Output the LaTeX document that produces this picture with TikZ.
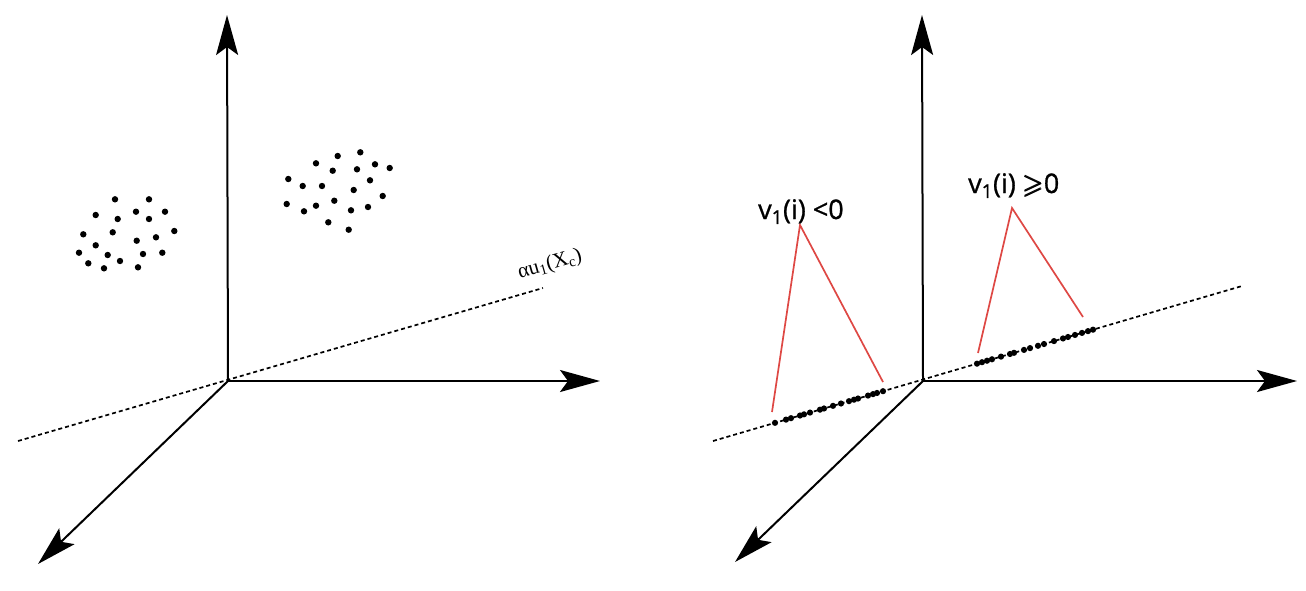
\documentclass[tikz,border=0pt]{standalone}
\usepackage{amsmath}
\usepackage{amssymb}
\usepackage{fontspec}
\newfontfamily\labelsans[FakeBold=0.9]{Open Sans}
\newfontfamily\labelserif{Liberation Serif}
\usetikzlibrary{arrows.meta}
\definecolor{redline}{RGB}{222,72,68}
\tikzset{
  axis/.style={line width=2pt, -{Stealth[length=40pt,width=22pt,inset=8pt]}},
  projline/.style={line width=1.7pt, dash pattern=on 4pt off 3pt},
  redleg/.style={redline, line width=1.7pt},
  dot/.style={black},
  sanslabel/.style={font=\labelsans\fontsize{27}{30}\selectfont, anchor=base west, inner sep=0pt},
  seriflabel/.style={font=\labelserif\fontsize{21}{24}\selectfont, inner sep=0pt}
}
\begin{document}
\begin{tikzpicture}[x=1pt,y=-1pt]
\useasboundingbox (0,0) rectangle (1306,590);
% ---------- left panel ----------
\coordinate (Lo) at (228,381);
\coordinate (Lup) at (227,15);
\coordinate (Lright) at (600,381);
\coordinate (Ldown) at (38,564);
\coordinate (Lda) at (18,441);
\coordinate (Ldb) at (543,288);
\draw[projline] (Lda) -- (Ldb);
\draw[axis] (Lo) -- (Lup);
\draw[axis] (Lo) -- (Lright);
\draw[axis] (Lo) -- (Ldown);
\node[seriflabel, rotate=16] (Llab) at (550,265) {αu\textsubscript{1}(X\textsubscript{c})};
\foreach \p in {(115,199.3),(149,199.3),(95.7,215),(117.7,219),(136,211.7),(165,211.7),(149,219),
  (83.3,234.3),(112.7,232.3),(174.3,231),(136.7,240.7),(156,237.3),(95.7,245.3),(79,252.7),
  (107.7,255),(143,254),(162.3,252.7),(88.3,263.3),(120,261),(104,268.3),(138,267.3)}
  \fill[dot] \p circle (3.2pt);
\foreach \p in {(337.7,156),(360.3,152.3),(316,163.3),(332.7,170.7),(357,169.3),(375,164.3),
  (389.7,168),(288.3,179),(302.7,186),(322,186),(370,180.3),(353.7,190),(382.7,196),(286.7,204),
  (304,211.3),(316,205.7),(334.3,200.7),(351,210.3),(368,207),(328.3,222.3),(348.7,229.7)}
  \fill[dot] \p circle (3.2pt);
% ---------- right panel ----------
\coordinate (Ro) at (923,381);
\coordinate (Rup) at (922,15);
\coordinate (Rright) at (1297,381);
\coordinate (Rdown) at (735,562);
\coordinate (Rda) at (713,441);
\coordinate (Rdb) at (1242,286);
\draw[projline] (Rda) -- (Rdb);
\draw[axis] (Ro) -- (Rup);
\draw[axis] (Ro) -- (Rright);
\draw[axis] (Ro) -- (Rdown);
\foreach \x in {775,786,791,800,804,810,820,824,833,841,849,854,858,868,873,877,883}
  \fill[dot] (\x,{441-0.293*(\x-713)}) circle (3.1pt);
\foreach \x in {977,982,987,992,1001,1010,1014,1024,1030,1038,1044,1054,1063,1068,1075,1082,1088,1093}
  \fill[dot] (\x,{441-0.293*(\x-713)}) circle (3.1pt);
% red wedges
\coordinate (Aapex) at (800,225);
\coordinate (Aleft) at (772,412);
\coordinate (Aright) at (883,382);
\coordinate (Bapex) at (1012,208);
\coordinate (Bleft) at (978,353);
\coordinate (Bright) at (1083,317);
\draw[redleg] (Aleft) -- (Aapex) -- (Aright);
\draw[redleg] (Bleft) -- (Bapex) -- (Bright);
\node[sanslabel] (Alab) at (758,219) {v\textsubscript{1}(i) <0};
\node[sanslabel] (Blab) at (968,193) {v\textsubscript{1}(i) $\pmb{\geqslant}$0};
\end{tikzpicture}
\end{document}
